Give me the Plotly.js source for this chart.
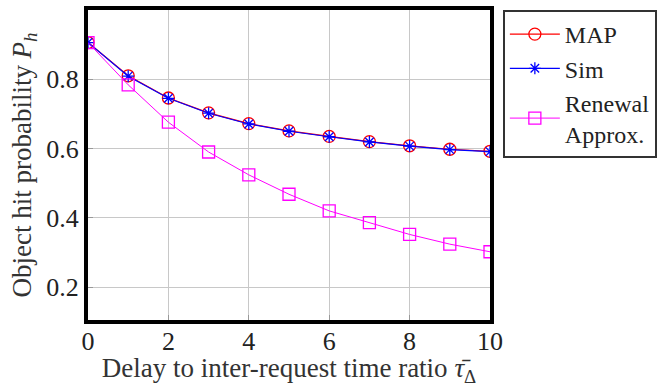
<!DOCTYPE html>
<html>
<head>
<meta charset="utf-8">
<script src="https://cdn.plot.ly/plotly-3.0.1.min.js"></script>
<style>html,body{margin:0;padding:0;background:#fff;}#chart{width:666px;height:387px;}</style>
</head>
<body>
<div id="chart"></div>
<script>
const delay = [0, 1, 2, 3, 4, 5, 6, 7, 8, 9, 10];
const mapValues = [0.906, 0.810, 0.746, 0.703, 0.672, 0.651, 0.635, 0.620, 0.608, 0.598, 0.592];
const simValues = [0.906, 0.809, 0.745, 0.702, 0.671, 0.650, 0.634, 0.619, 0.607, 0.597, 0.591];
const renewalValues = [0.906, 0.784, 0.676, 0.590, 0.524, 0.468, 0.420, 0.386, 0.352, 0.324, 0.302];
const seriesNames = ['MAP', 'Sim', 'Renewal<br>Approx.'];
const xTickVals = [0, 2, 4, 6, 8, 10];
const xTickText = ['0', '2', '4', '6', '8', '10'];
const yTickVals = [0.2, 0.4, 0.6, 0.8, 1];
const yTickText = ['0.2', '0.4', '0.6', '0.8', '1'];

const FONT = 'Liberation Serif';

const traces = [
  {x: delay, y: mapValues, name: seriesNames[0], mode: 'lines+markers', type: 'scatter',
   line: {color: '#ff0000', width: 1.2},
   marker: {symbol: 'circle-open', size: 12, color: '#ff0000', line: {width: 1.3, color: '#ff0000'}}},
  {x: delay, y: simValues, name: seriesNames[1], mode: 'lines+markers', type: 'scatter',
   line: {color: '#0000ff', width: 1.2},
   marker: {symbol: 'asterisk-open', size: 10, color: '#0000ff', line: {width: 1.3, color: '#0000ff'}}},
  {x: delay, y: renewalValues, name: seriesNames[2], mode: 'lines+markers', type: 'scatter',
   line: {color: '#ff00ff', width: 1},
   marker: {symbol: 'square-open', size: 12, color: '#ff00ff', line: {width: 1.3, color: '#ff00ff'}}}
];

const layout = {
  width: 666, height: 387,
  margin: {l: 88, r: 176, t: 10, b: 67, autoexpand: false},
  paper_bgcolor: '#ffffff', plot_bgcolor: '#ffffff',
  font: {family: FONT, size: 25, color: '#222'},
  showlegend: true,
  legend: {x: 1.032, xanchor: 'left', y: 1.0, yanchor: 'top',
           bordercolor: '#333', borderwidth: 2, bgcolor: '#fff',
           font: {family: FONT, size: 24, color: '#222'},
           tracegroupgap: 0, itemwidth: 50},
  xaxis: {range: [0, 10], tickvals: xTickVals, ticktext: xTickText,
          showgrid: true, gridcolor: '#c8c8c8', gridwidth: 1, zeroline: false,
          showline: true, linecolor: '#000', linewidth: 4, mirror: true,
          ticks: 'inside', ticklen: 5, tickcolor: '#999', tickwidth: 1,
          ticklabelstandoff: -5,
          tickfont: {family: FONT, size: 26, color: '#222'},
          title: {text: 'Delay to inter-request time ratio <i>τ̄</i><sub>Δ</sub>', standoff: 2,
                  font: {family: FONT, size: 27, color: '#333'}}},
  yaxis: {range: [0.105, 1], tickvals: yTickVals, ticktext: yTickText,
          showgrid: true, gridcolor: '#c8c8c8', gridwidth: 1, zeroline: false,
          showline: true, linecolor: '#000', linewidth: 4, mirror: true,
          ticks: 'inside', ticklen: 5, tickcolor: '#999', tickwidth: 1,
          tickfont: {family: FONT, size: 26, color: '#222'},
          title: {text: 'Object hit probability <i>P</i><sub><i>h</i></sub>', standoff: 8,
                  font: {family: FONT, size: 27, color: '#333'}}}
};

Plotly.newPlot('chart', traces, layout, {displayModeBar: false, staticPlot: true});
</script>
</body>
</html>
